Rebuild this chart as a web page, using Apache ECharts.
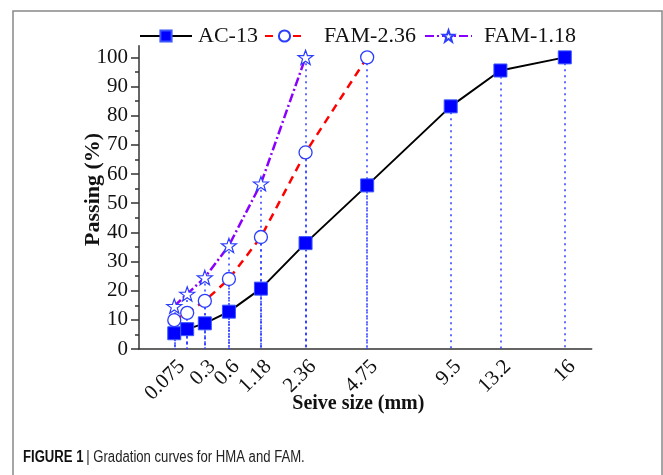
<!DOCTYPE html>
<html>
<head>
<meta charset="utf-8">
<script src="https://cdn.jsdelivr.net/npm/echarts@6/dist/echarts.min.js"></script>
<style>
html,body{margin:0;padding:0;background:#fff;}
#chart{width:663px;height:475px;}
</style>
</head>
<body>
<div id="chart"></div>
<script>
// Sieve sizes (mm) as labelled, and the size at which each tick sits on the 0.45-power axis
const sieveLabels = ['0.075', '0.15', '0.3', '0.6', '1.18', '2.36', '4.75', '9.5', '13.2', '16'];
const sieveAxisSize = [0.075, 0.15, 0.3, 0.6, 1.18, 2.36, 4.75, 9.5, 13.2, 19];
const POWER = 0.45;

// Passing (%)
const ac13 = [5.4, 6.8, 8.8, 12.8, 20.7, 36.3, 56.1, 83.2, 95.5, 100];
const fam236 = [9.9, 12.4, 16.5, 24.0, 38.4, 67.4, 100];
const fam118 = [14.7, 18.9, 24.5, 35.5, 56.7, 100];

const yMajorTicks = [0, 10, 20, 30, 40, 50, 60, 70, 80, 90, 100];
const yMinorTicks = [5, 15, 25, 35, 45, 55, 65, 75, 85, 95];

const xPos = sieveAxisSize.map(s => Math.pow(s, POWER));
const toPoints = arr => arr.map((v, i) => [xPos[i], v]);
const dropLines = pts => pts.map(p => [{ coord: [p[0], p[1]] }, { coord: [p[0], 0] }]);

const serif = 'Liberation Serif, Times New Roman, serif';
const sans = 'Liberation Sans, Arial, sans-serif';
const blue = '#0000ff';
const markBlue = '#2b3dff';
const starPath = 'path://M0,-10 L2.35,-3.24 L9.51,-3.09 L3.8,1.24 L5.88,8.09 L0,4 L-5.88,8.09 L-3.8,1.24 L-9.51,-3.09 L-2.35,-3.24 Z';

const dropStyle = {
  silent: true, symbol: 'none', label: { show: false },
  lineStyle: { color: markBlue, type: [2, 4], width: 1.5 }, z: 1
};

const acPts = toPoints(ac13);
const f236Pts = toPoints(fam236);
const f118Pts = toPoints(fam118);

const legendText = pad => ({ fontFamily: serif, fontSize: 22, color: '#111', padding: [0, 0, 0, pad] });

const chart = echarts.init(document.getElementById('chart'), null, { renderer: 'canvas' });
chart.setOption({
  animation: false,
  backgroundColor: '#fff',
  graphic: [{
    type: 'rect', shape: { x: 13, y: 11, width: 649, height: 480 },
    style: { fill: 'none', stroke: '#888', lineWidth: 1.5 }, silent: true
  }, {
    type: 'text', x: 23, y: 450, scaleX: 0.82, silent: true,
    style: {
      text: '{b|FIGURE 1} {n|| Gradation curves for HMA and FAM.}',
      rich: {
        b: { fontFamily: sans, fontWeight: 'bold', fontSize: 16, fill: '#111' },
        n: { fontFamily: sans, fontWeight: 'normal', fontSize: 16, fill: '#222' }
      }
    }
  }],
  legend: [
    { data: ['AC-13'], left: 139, top: 25, padding: 0, itemWidth: 52, itemHeight: 14, textStyle: legendText(1) },
    { data: ['FAM-2.36'], left: 264, top: 25, padding: 0, itemWidth: 39, itemHeight: 14, textStyle: legendText(15) },
    { data: ['FAM-1.18'], left: 424, top: 25, padding: 0, itemWidth: 47, itemHeight: 14, textStyle: legendText(7) }
  ],
  grid: { left: 139, right: 71.3, top: 45.7, bottom: 126 },
  xAxis: {
    type: 'value', min: 0, max: 4,
    name: 'Seive size (mm)', nameLocation: 'middle', nameGap: 45, nameMoveOverlap: false,
    nameTextStyle: { fontFamily: serif, fontWeight: 'bold', fontSize: 20, color: '#111', padding: [0, 14, 0, 0] },
    axisLine: { show: true, lineStyle: { color: '#333', width: 1.5 } },
    axisTick: { show: false },
    splitLine: { show: false },
    axisLabel: {
      customValues: xPos, rotate: 45, margin: 7, hideOverlap: false,
      showMinLabel: true, showMaxLabel: true, verticalAlign: 'top',
      fontFamily: serif, fontSize: 21, color: '#111',
      formatter: v => {
        const i = xPos.findIndex(p => Math.abs(p - v) < 1e-6);
        return i >= 0 ? sieveLabels[i] : '';
      }
    }
  },
  yAxis: [{
    type: 'value', min: 0, max: 104,
    name: 'Passing (%)', nameLocation: 'middle', nameGap: 35, nameMoveOverlap: false,
    nameTextStyle: { fontFamily: serif, fontWeight: 'bold', fontSize: 22, color: '#111', padding: [0, 0, 0, 16] },
    axisLine: { show: true, lineStyle: { color: '#333', width: 1.5 } },
    axisTick: { show: true, customValues: yMajorTicks, length: 8, lineStyle: { color: '#333', width: 1.5 } },
    axisLabel: { customValues: yMajorTicks, margin: 11, fontFamily: serif, fontSize: 21, color: '#111' },
    splitLine: { show: false }
  }, {
    type: 'value', min: 0, max: 104, position: 'left',
    axisLine: { show: false },
    axisTick: { show: true, customValues: yMinorTicks, length: 4, lineStyle: { color: '#333', width: 1.5 } },
    axisLabel: { show: false },
    splitLine: { show: false }
  }],
  series: [{
    name: 'AC-13', type: 'line', data: acPts, yAxisIndex: 0,
    symbol: 'rect', symbolSize: 13, z: 3,
    lineStyle: { color: '#000', width: 2 },
    itemStyle: { color: blue, borderColor: '#3a55ff', borderWidth: 1 },
    markLine: Object.assign({ data: dropLines(acPts) }, dropStyle)
  }, {
    name: 'FAM-2.36', type: 'line', data: f236Pts, yAxisIndex: 0,
    symbol: 'circle', symbolSize: 13, z: 4,
    lineStyle: { color: '#ff0000', width: 2.5, type: [8, 6] },
    itemStyle: { color: '#fff', borderColor: markBlue, borderWidth: 1.3 },
    markLine: Object.assign({ data: dropLines(f236Pts) }, dropStyle)
  }, {
    name: 'FAM-1.18', type: 'line', data: f118Pts, yAxisIndex: 0,
    symbol: starPath, symbolSize: 15, symbolKeepAspect: true, z: 5,
    lineStyle: { color: '#8a00ff', width: 2.5, type: [9, 3, 2, 3] },
    itemStyle: { color: '#fff', borderColor: markBlue, borderWidth: 1.2 },
    markLine: Object.assign({ data: dropLines(f118Pts) }, dropStyle)
  }]
});
</script>
</body>
</html>
